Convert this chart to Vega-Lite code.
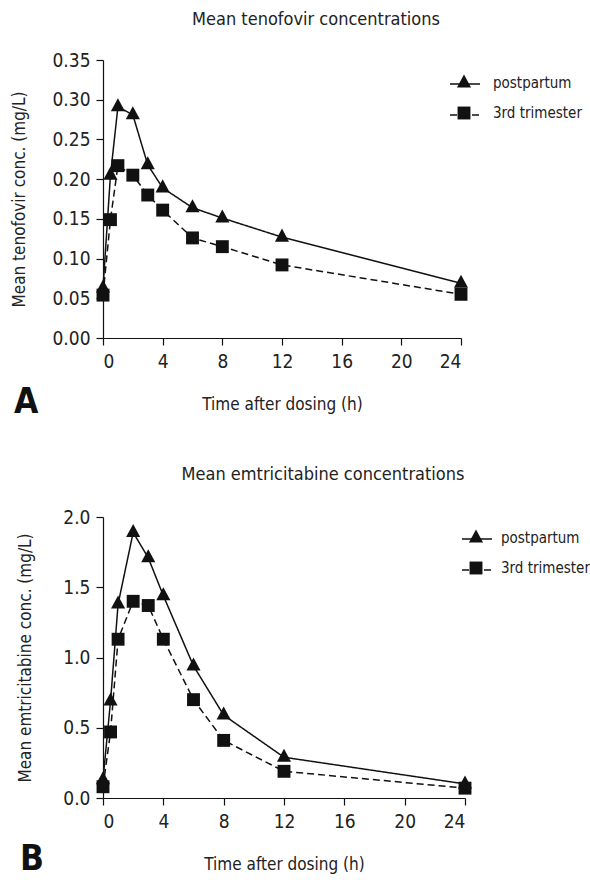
{
  "$schema": "https://vega.github.io/schema/vega-lite/v6.json",
  "padding": {"left": 10, "top": 11, "right": 4, "bottom": 0},
  "background": "white",
  "config": {
    "font": "'DejaVu Sans Condensed', 'Liberation Sans Narrow', Roboto, sans-serif",
    "view": {"stroke": null},
    "axis": {
      "grid": false,
      "domainColor": "#111",
      "domainWidth": 1.2,
      "tickColor": "#111",
      "tickSize": 7,
      "tickWidth": 1.2,
      "labelColor": "#222",
      "labelFont": "'DejaVu Sans Condensed', 'Liberation Sans Narrow', Roboto, sans-serif",
      "labelFontSize": 19,
      "labelPadding": 6,
      "titleColor": "#222",
      "titleFont": "'DejaVu Sans Condensed', 'Liberation Sans Narrow', Roboto, sans-serif",
      "titleFontSize": 17,
      "titleFontWeight": "normal"
    },
    "axisX": {"labelPadding": 7, "titlePadding": 25},
    "axisY": {"titlePadding": 22},
    "legend": {
      "labelFont": "'DejaVu Sans Condensed', 'Liberation Sans Narrow', Roboto, sans-serif",
      "labelFontSize": 15,
      "labelColor": "#222",
      "title": null
    },
    "title": {"font": "'DejaVu Sans Condensed', 'Liberation Sans Narrow', Roboto, sans-serif", "fontWeight": "normal", "fontSize": 18, "color": "#222"}
  },
  "datasets": {
    "tenofovir": [
      {"time": 0, "conc": 0.063, "series": "postpartum"},
      {"time": 0.5, "conc": 0.205, "series": "postpartum"},
      {"time": 1, "conc": 0.291, "series": "postpartum"},
      {"time": 2, "conc": 0.281, "series": "postpartum"},
      {"time": 3, "conc": 0.218, "series": "postpartum"},
      {"time": 4, "conc": 0.189, "series": "postpartum"},
      {"time": 6, "conc": 0.164, "series": "postpartum"},
      {"time": 8, "conc": 0.151, "series": "postpartum"},
      {"time": 12, "conc": 0.127, "series": "postpartum"},
      {"time": 24, "conc": 0.069, "series": "postpartum"},
      {"time": 0, "conc": 0.054, "series": "3rd trimester"},
      {"time": 0.5, "conc": 0.149, "series": "3rd trimester"},
      {"time": 1, "conc": 0.217, "series": "3rd trimester"},
      {"time": 2, "conc": 0.205, "series": "3rd trimester"},
      {"time": 3, "conc": 0.18, "series": "3rd trimester"},
      {"time": 4, "conc": 0.161, "series": "3rd trimester"},
      {"time": 6, "conc": 0.126, "series": "3rd trimester"},
      {"time": 8, "conc": 0.115, "series": "3rd trimester"},
      {"time": 12, "conc": 0.092, "series": "3rd trimester"},
      {"time": 24, "conc": 0.055, "series": "3rd trimester"}
    ],
    "emtricitabine": [
      {"time": 0, "conc": 0.13, "series": "postpartum"},
      {"time": 0.5, "conc": 0.69, "series": "postpartum"},
      {"time": 1, "conc": 1.38, "series": "postpartum"},
      {"time": 2, "conc": 1.89, "series": "postpartum"},
      {"time": 3, "conc": 1.71, "series": "postpartum"},
      {"time": 4, "conc": 1.44, "series": "postpartum"},
      {"time": 6, "conc": 0.94, "series": "postpartum"},
      {"time": 8, "conc": 0.59, "series": "postpartum"},
      {"time": 12, "conc": 0.29, "series": "postpartum"},
      {"time": 24, "conc": 0.1, "series": "postpartum"},
      {"time": 0, "conc": 0.08, "series": "3rd trimester"},
      {"time": 0.5, "conc": 0.47, "series": "3rd trimester"},
      {"time": 1, "conc": 1.13, "series": "3rd trimester"},
      {"time": 2, "conc": 1.4, "series": "3rd trimester"},
      {"time": 3, "conc": 1.37, "series": "3rd trimester"},
      {"time": 4, "conc": 1.13, "series": "3rd trimester"},
      {"time": 6, "conc": 0.7, "series": "3rd trimester"},
      {"time": 8, "conc": 0.41, "series": "3rd trimester"},
      {"time": 12, "conc": 0.19, "series": "3rd trimester"},
      {"time": 24, "conc": 0.07, "series": "3rd trimester"}
    ]
  },
  "spacing": 46,
  "resolve": {
    "scale": {"shape": "independent", "strokeDash": "independent"},
    "legend": {"shape": "independent", "strokeDash": "independent"}
  },
  "vconcat": [
    {
      "title": {"text": "Mean tenofovir concentrations", "anchor": "middle", "dx": 20, "offset": 22},
      "resolve": {
        "scale": {"shape": "independent", "strokeDash": "independent"},
        "legend": {"shape": "independent", "strokeDash": "independent"}
      },
      "vconcat": [
        {
          "width": 358,
          "height": 278,
          "title": {"text": "A", "orient": "bottom", "anchor": "start", "fontSize": 35, "fontWeight": "bold", "color": "#111", "dx": 4, "dy": -31},
          "data": {"name": "tenofovir"},
          "encoding": {
            "x": {"field": "time", "type": "quantitative", "scale": {"domain": [0, 24], "nice": false},
              "axis": {"values": [0, 4, 8, 12, 16, 20, 24], "title": "Time after dosing (h)"}},
            "y": {"field": "conc", "type": "quantitative", "scale": {"domain": [0, 0.35], "nice": false},
              "axis": {"values": [0, 0.05, 0.1, 0.15, 0.2, 0.25, 0.3, 0.35], "format": ".2f", "minExtent": 53, "title": "Mean tenofovir conc. (mg/L)"}}
          },
          "layer": [
            {
              "mark": {"type": "line", "color": "#111", "strokeWidth": 1.5},
              "encoding": {
                "strokeDash": {"field": "series", "type": "nominal", "sort": ["postpartum", "3rd trimester"],
                  "scale": {"range": [[1, 0], [7, 4]]},
                  "legend": {"orient": "none", "legendX": 346, "legendY": 8, "symbolType": "stroke", "symbolSize": 900, "symbolStrokeWidth": 1.5, "symbolStrokeColor": "#111", "labelExpr": "''", "rowPadding": 7, "labelOffset": 14}}
              }
            },
            {
              "mark": {"type": "point", "filled": true, "color": "#111", "opacity": 1, "size": 900},
              "encoding": {
                "shape": {"field": "series", "type": "nominal",
                  "scale": {"domain": ["postpartum", "3rd trimester"], "range": ["M-0.47,0.3L0,-0.57L0.47,0.3Z", "M-0.43,-0.43H0.43V0.43H-0.43Z"]},
                  "legend": {"orient": "none", "legendX": 346, "legendY": 8, "symbolSize": 900, "symbolFillColor": "#111", "symbolStrokeWidth": 0, "rowPadding": 7, "labelOffset": 14}}
              }
            }
          ]
        }
      ]
    },
    {
      "title": {"text": "Mean emtricitabine concentrations", "anchor": "middle", "dx": 20, "offset": 24},
      "resolve": {
        "scale": {"shape": "independent", "strokeDash": "independent"},
        "legend": {"shape": "independent", "strokeDash": "independent"}
      },
      "vconcat": [
        {
          "width": 362,
          "height": 281,
          "title": {"text": "B", "orient": "bottom", "anchor": "start", "fontSize": 35, "fontWeight": "bold", "color": "#111", "dx": 4, "dy": -34},
          "data": {"name": "emtricitabine"},
          "encoding": {
            "x": {"field": "time", "type": "quantitative", "scale": {"domain": [0, 24], "nice": false},
              "axis": {"values": [0, 4, 8, 12, 16, 20, 24], "title": "Time after dosing (h)"}},
            "y": {"field": "conc", "type": "quantitative", "scale": {"domain": [0, 2], "nice": false},
              "axis": {"values": [0, 0.5, 1, 1.5, 2], "format": ".1f", "minExtent": 47, "title": "Mean emtricitabine conc. (mg/L)"}}
          },
          "layer": [
            {
              "mark": {"type": "line", "color": "#111", "strokeWidth": 1.5},
              "encoding": {
                "strokeDash": {"field": "series", "type": "nominal", "sort": ["postpartum", "3rd trimester"],
                  "scale": {"range": [[1, 0], [7, 4]]},
                  "legend": {"orient": "none", "legendX": 358, "legendY": 6, "symbolType": "stroke", "symbolSize": 900, "symbolStrokeWidth": 1.5, "symbolStrokeColor": "#111", "labelExpr": "''", "rowPadding": 7, "labelOffset": 10}}
              }
            },
            {
              "mark": {"type": "point", "filled": true, "color": "#111", "opacity": 1, "size": 900},
              "encoding": {
                "shape": {"field": "series", "type": "nominal",
                  "scale": {"domain": ["postpartum", "3rd trimester"], "range": ["M-0.47,0.3L0,-0.57L0.47,0.3Z", "M-0.43,-0.43H0.43V0.43H-0.43Z"]},
                  "legend": {"orient": "none", "legendX": 358, "legendY": 6, "symbolSize": 900, "symbolFillColor": "#111", "symbolStrokeWidth": 0, "rowPadding": 7, "labelOffset": 10}}
              }
            }
          ]
        }
      ]
    }
  ]
}
